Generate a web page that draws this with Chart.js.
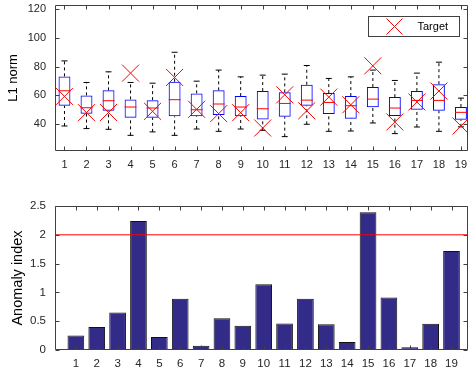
<!DOCTYPE html>
<html>
<head>
<meta charset="utf-8">
<script src="https://cdn.jsdelivr.net/npm/chart.js@4.4.0/dist/chart.umd.min.js"></script>
<style>
  body { margin: 0; background: #fff; }
  #wrap { position: relative; width: 469px; height: 368px; }
  canvas { position: absolute; left: 0; }
  #top-chart { top: 0; }
  #bottom-chart { top: 190px; }
</style>
</head>
<body>
<div id="wrap">
  <canvas id="top-chart" width="469" height="180"></canvas>
  <canvas id="bottom-chart" width="469" height="178"></canvas>
</div>
<script>
// values
var categories = [1, 2, 3, 4, 5, 6, 7, 8, 9, 10, 11, 12, 13, 14, 15, 16, 17, 18, 19];
var whiskerHigh = [83.9, 68.9, 76.3, 68.9, 68.4, 89.9, 69.8, 77.5, 72.8, 74.0, 74.7, 80.7, 71.7, 72.8, 77.5, 70.3, 75.4, 83.0, 58.0];
var boxHigh = [73.1, 59.9, 63.4, 57.1, 56.6, 69.4, 61.3, 63.4, 59.4, 62.9, 62.0, 67.3, 61.5, 59.4, 65.7, 58.7, 62.9, 67.7, 51.8];
var medians = [63.1, 51.3, 56.2, 51.8, 51.1, 56.9, 49.9, 53.9, 51.8, 50.6, 54.3, 56.6, 55.0, 52.7, 57.3, 51.1, 56.4, 56.4, 48.1];
var boxLow = [52.7, 47.2, 49.2, 44.4, 44.4, 45.3, 45.3, 46.2, 45.3, 43.2, 45.1, 52.7, 46.9, 43.7, 51.6, 45.5, 49.9, 49.2, 43.0];
var whiskerLow = [38.6, 36.8, 36.3, 32.1, 34.5, 32.1, 36.5, 34.9, 36.5, 35.6, 31.2, 39.8, 34.9, 35.1, 40.7, 33.3, 37.9, 34.9, 38.0];
var targets = [59.2, 47.9, 48.0, 75.4, 48.8, 72.4, 50.2, 47.2, 47.9, 37.2, 60.3, 49.2, 58.7, 53.4, 80.5, 41.4, 55.3, 62.9, 38.6];
var anomaly = [0.25, 0.40, 0.65, 2.24, 0.225, 0.89, 0.075, 0.55, 0.42, 1.14, 0.46, 0.89, 0.445, 0.14, 2.39, 0.91, 0.047, 0.455, 1.72];
var threshold = 2;
var topYTicks = [40, 60, 80, 100, 120];
var bottomYTicks = [0, 0.5, 1, 1.5, 2, 2.5];

// styles
var axisColor = '#404040';
var textColor = '#262626';
var fontFamily = "'Liberation Sans', Arial, sans-serif";
var tickLen = 4;

// box frame with inward ticks on all four sides
var framePlugin = {
    id: 'frame',
    afterDraw: function(chart) {
        var ctx = chart.ctx;
        var a = chart.chartArea;
        var xs = chart.scales.x;
        var ys = chart.scales.y;
        var l = Math.round(a.left) + 0.5, r = Math.round(a.right) - 0.5;
        var t = Math.round(a.top) + 0.5, b = Math.round(a.bottom) - 0.5;
        ctx.save();
        ctx.strokeStyle = axisColor;
        ctx.lineWidth = 1;
        ctx.beginPath();
        xs.ticks.forEach(function(tk) {
            var px = Math.round(xs.getPixelForValue(tk.value)) + 0.5;
            ctx.moveTo(px, b); ctx.lineTo(px, b - tickLen);
            ctx.moveTo(px, t); ctx.lineTo(px, t + tickLen);
        });
        ys.ticks.forEach(function(tk) {
            var py = Math.round(ys.getPixelForValue(tk.value)) + 0.5;
            ctx.moveTo(l, py); ctx.lineTo(l + tickLen, py);
            ctx.moveTo(r, py); ctx.lineTo(r - tickLen, py);
        });
        ctx.rect(l, t, r - l, b - t);
        ctx.stroke();
        ctx.restore();
    }
};

// small legend box inside the top plot
var legendPlugin = {
    id: 'targetLegend',
    afterDraw: function(chart) {
        var ctx = chart.ctx;
        var a = chart.chartArea;
        var x0 = Math.round(a.right) - 99.5, y0 = Math.round(a.top) + 11.5;
        var w = 91, h = 20;
        ctx.save();
        ctx.fillStyle = '#fff';
        ctx.fillRect(x0, y0, w, h);
        ctx.strokeStyle = axisColor;
        ctx.lineWidth = 1;
        ctx.strokeRect(x0, y0, w, h);
        var cx = x0 + 26, cy = y0 + h / 2, m = 8;
        ctx.beginPath();
        ctx.moveTo(cx - m, cy - m); ctx.lineTo(cx + m, cy + m);
        ctx.moveTo(cx + m, cy - m); ctx.lineTo(cx - m, cy + m);
        ctx.strokeStyle = '#ff0000';
        ctx.lineWidth = 1;
        ctx.stroke();
        ctx.fillStyle = '#000';
        ctx.font = '11px ' + fontFamily;
        ctx.textBaseline = 'middle';
        ctx.fillText('Target', x0 + 49, cy + 0.5);
        ctx.restore();
    }
};

function fixedTicks(list) {
    return function(scale) {
        scale.ticks = list.map(function(v) { return { value: v }; });
    };
}

// keep the plot box where it is, ignore label overhang
function fitTo(size) {
    return function(s) {
        if (s.isHorizontal()) { s.height = size; } else { s.width = size; }
        s.paddingLeft = 0; s.paddingRight = 0;
        s.paddingTop = 0; s.paddingBottom = 0;
    };
}

// whisker segments, broken by nulls
var whiskerData = [];
categories.forEach(function(c, i) {
    whiskerData.push({ x: c, y: boxHigh[i] }, { x: c, y: whiskerHigh[i] }, { x: c, y: null });
    whiskerData.push({ x: c, y: whiskerLow[i] }, { x: c, y: boxLow[i] }, { x: c, y: null });
});
var capData = [];
categories.forEach(function(c, i) {
    capData.push({ x: c, y: whiskerHigh[i] }, { x: c, y: whiskerLow[i] });
});

Chart.defaults.font.family = fontFamily;
Chart.defaults.color = textColor;

// top: box plot of L1 norm
var topChart = new Chart(document.getElementById('top-chart'), {
    type: 'scatter',
    data: {
        datasets: [
            {
                label: 'Target',
                data: categories.map(function(c, i) { return { x: c, y: targets[i] }; }),
                pointStyle: 'crossRot',
                radius: 12,
                borderColor: '#ff0000',
                borderWidth: 1,
                order: 0
            },
            {
                label: 'median',
                data: categories.map(function(c, i) { return { x: c, y: medians[i] }; }),
                pointStyle: 'line',
                radius: 6,
                borderColor: '#ff0000',
                borderWidth: 1,
                order: 1
            },
            {
                type: 'bar',
                label: 'box',
                data: categories.map(function(c, i) { return { x: c, y: [boxLow[i], boxHigh[i]] }; }),
                backgroundColor: 'rgba(0,0,0,0)',
                borderColor: '#0000ff',
                borderWidth: 1,
                borderSkipped: false,
                categoryPercentage: 0.54,
                barPercentage: 1,
                order: 2
            },
            {
                type: 'line',
                label: 'whisker',
                data: whiskerData,
                borderColor: '#000',
                borderWidth: 1,
                borderDash: [3, 3],
                pointRadius: 0,
                spanGaps: false,
                order: 3
            },
            {
                label: 'cap',
                data: capData,
                pointStyle: 'line',
                radius: 3,
                borderColor: '#000',
                borderWidth: 1,
                order: 3
            }
        ]
    },
    options: {
        responsive: false,
        animation: false,
        layout: { autoPadding: false, padding: { top: 5, right: 1, left: 0, bottom: 0 } },
        plugins: { legend: { display: false }, tooltip: { enabled: false } },
        scales: {
            x: {
                type: 'linear',
                min: 0.57,
                max: 19.32,
                offset: false,
                afterBuildTicks: fixedTicks(categories),
                afterFit: fitTo(29),
                grid: { display: false, drawTicks: false },
                border: { display: false },
                ticks: { padding: 7, font: { size: 11 }, color: textColor, maxRotation: 0, autoSkip: false }
            },
            y: {
                min: 21.2,
                max: 122.8,
                afterBuildTicks: fixedTicks(topYTicks),
                afterFit: fitTo(55),
                grid: { display: false, drawTicks: false },
                border: { display: false },
                ticks: { padding: 9, font: { size: 11 }, color: textColor },
                title: { display: true, text: 'L1 norm', font: { size: 13 }, color: '#000', padding: { top: 6, bottom: 0 } }
            }
        }
    },
    plugins: [framePlugin, legendPlugin]
});

// bottom: anomaly index bars
var bottomChart = new Chart(document.getElementById('bottom-chart'), {
    type: 'bar',
    data: {
        datasets: [
            {
                type: 'line',
                label: 'threshold',
                data: [{ x: 0, y: threshold }, { x: 20, y: threshold }],
                borderColor: '#ff0000',
                borderWidth: 1,
                pointRadius: 0,
                order: 0
            },
            {
                label: 'Anomaly index',
                data: categories.map(function(c, i) { return { x: c, y: anomaly[i] }; }),
                backgroundColor: '#332b88',
                borderColor: '#111',
                borderWidth: 1,
                borderSkipped: false,
                categoryPercentage: 0.8,
                barPercentage: 1,
                order: 1
            }
        ]
    },
    options: {
        responsive: false,
        animation: false,
        layout: { autoPadding: false, padding: { top: 16, right: 1, left: 0, bottom: 0 } },
        plugins: { legend: { display: false }, tooltip: { enabled: false } },
        scales: {
            x: {
                type: 'linear',
                min: 0,
                max: 19.79,
                offset: false,
                afterBuildTicks: fixedTicks(categories),
                afterFit: fitTo(18),
                grid: { display: false, drawTicks: false },
                border: { display: false },
                ticks: { padding: 7, font: { size: 11.5 }, color: textColor, maxRotation: 0, autoSkip: false }
            },
            y: {
                min: 0,
                max: 2.5,
                afterBuildTicks: fixedTicks(bottomYTicks),
                afterFit: fitTo(55),
                grid: { display: false, drawTicks: false },
                border: { display: false },
                ticks: {
                    padding: 9,
                    font: { size: 11.5 },
                    color: textColor,
                    callback: function(v) { return String(v); }
                },
                title: { display: true, text: 'Anomaly index', font: { size: 14.5 }, color: '#000', padding: { top: 9, bottom: 0 } }
            }
        }
    },
    plugins: [framePlugin]
});
</script>
</body>
</html>
